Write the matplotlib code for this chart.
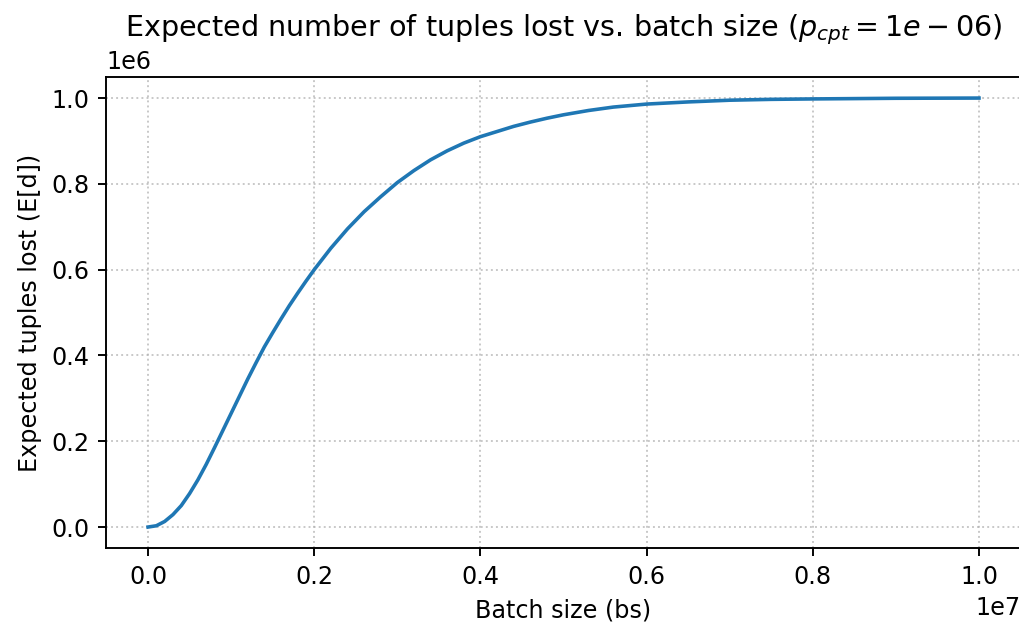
import matplotlib
matplotlib.use("Agg")
import matplotlib.pyplot as plt

# batch size (x 1e7) and expected tuples lost (x 1e6)
bs = [0.00, 0.01, 0.02, 0.03, 0.04, 0.05, 0.06, 0.07, 0.08, 0.09, 0.10,
      0.11, 0.12, 0.13, 0.14, 0.15, 0.16, 0.17, 0.18, 0.19, 0.20,
      0.22, 0.24, 0.26, 0.28, 0.30, 0.32, 0.34, 0.36, 0.38, 0.40,
      0.42, 0.44, 0.46, 0.48, 0.50, 0.53, 0.56, 0.60, 0.65, 0.70,
      0.75, 0.80, 0.90, 1.00]
lost = [0.000, 0.003, 0.013, 0.029, 0.050, 0.078, 0.110, 0.146, 0.185, 0.225, 0.265,
        0.305, 0.345, 0.383, 0.420, 0.453, 0.485, 0.516, 0.545, 0.573, 0.600,
        0.650, 0.695, 0.735, 0.770, 0.803, 0.831, 0.856, 0.877, 0.895, 0.910,
        0.922, 0.934, 0.944, 0.953, 0.961, 0.971, 0.979, 0.986, 0.991, 0.995,
        0.997, 0.998, 0.9995, 1.000]

x = [v * 1e7 for v in bs]
y = [v * 1e6 for v in lost]

dpi = 172
fig, ax = plt.subplots(figsize=(1019 / dpi, 628 / dpi), dpi=dpi)
fig.subplots_adjust(left=0.1045, right=1.0015, top=0.878, bottom=0.1266)

ax.plot(x, y, color="tab:blue", linewidth=1.5)
ax.set_title(r"Expected number of tuples lost vs. batch size ($p_{cpt} = 1e-06$)")
ax.set_xlabel("Batch size (bs)")
ax.set_ylabel("Expected tuples lost (E[d])")
ax.grid(True, linestyle=":", alpha=0.7)

fig.savefig("out.png", dpi=dpi)
